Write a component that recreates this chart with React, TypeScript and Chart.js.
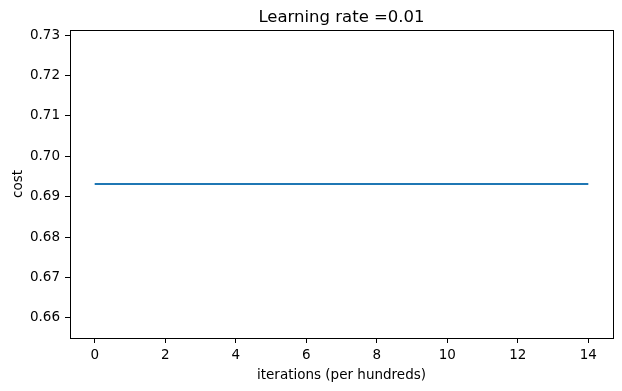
import React, { useEffect, useRef } from "react";
import { Chart, registerables } from "chart.js";

Chart.register(...registerables);

const iterations = [0, 1, 2, 3, 4, 5, 6, 7, 8, 9, 10, 11, 12, 13, 14];
const costs = [0.69315, 0.69315, 0.69315, 0.69315, 0.69315, 0.69315, 0.69315, 0.69315, 0.69315, 0.69315, 0.69315, 0.69315, 0.69315, 0.69315, 0.69315];
const xTicks = [0, 2, 4, 6, 8, 10, 12, 14];
const yTicks = [0.66, 0.67, 0.68, 0.69, 0.7, 0.71, 0.72, 0.73];
const titleText = "Learning rate =0.01";

const FONT = "'DejaVu Sans', sans-serif";

const framePlugin = {
  id: "frame",
  afterDraw(chart: any) {
    const { ctx, chartArea } = chart;
    ctx.save();
    ctx.strokeStyle = "#000";
    ctx.lineWidth = 1;
    ctx.strokeRect(
      Math.round(chartArea.left) + 0.5,
      Math.round(chartArea.top) + 0.5,
      Math.round(chartArea.right - chartArea.left),
      Math.round(chartArea.bottom - chartArea.top)
    );
    ctx.fillStyle = "#000";
    ctx.font = `16.5px ${FONT}`;
    ctx.textAlign = "center";
    ctx.textBaseline = "alphabetic";
    ctx.fillText(titleText, (chartArea.left + chartArea.right) / 2, 22);
    ctx.restore();
  },
};

export default function App() {
  const ref = useRef<HTMLCanvasElement>(null);
  useEffect(() => {
    const chart = new Chart(ref.current!, {
      type: "line",
      data: {
        datasets: [
          {
            data: iterations.map((x, i) => ({ x, y: costs[i] })),
            borderColor: "#1f77b4",
            borderWidth: 2,
            pointRadius: 0,
            fill: false,
          },
        ],
      },
      options: {
        animation: false,
        responsive: false,
        layout: { padding: { top: 30, right: 9, left: 0, bottom: 0 } },
        plugins: { legend: { display: false }, tooltip: { enabled: false }, title: { display: false } },
        scales: {
          x: {
            type: "linear",
            min: -0.7,
            max: 14.7,
            afterBuildTicks: (s: any) => {
              s.ticks = xTicks.map((v) => ({ value: v }));
            },
            afterFit: (s: any) => {
              s.height = 53;
            },
            grid: { display: true, drawOnChartArea: false, tickLength: 5, color: "#000", tickWidth: 1 },
            border: { display: true, color: "#000", width: 1 },
            ticks: { color: "#000", font: { family: FONT, size: 13.5 }, padding: 4, maxRotation: 0 },
            title: {
              display: true,
              text: "iterations (per hundreds)",
              color: "#000",
              font: { family: FONT, size: 13.5 },
              padding: { top: 0, bottom: 7 },
            },
          },
          y: {
            type: "linear",
            min: 0.65503,
            max: 0.73127,
            afterBuildTicks: (s: any) => {
              s.ticks = yTicks.map((v) => ({ value: v }));
            },
            afterFit: (s: any) => {
              s.width = 70;
            },
            grid: { display: true, drawOnChartArea: false, tickLength: 5, color: "#000", tickWidth: 1 },
            border: { display: true, color: "#000", width: 1 },
            ticks: {
              color: "#000",
              font: { family: FONT, size: 13.5 },
              padding: 5,
              callback: (v: any) => Number(v).toFixed(2),
            },
            title: {
              display: true,
              text: "cost",
              color: "#000",
              font: { family: FONT, size: 13.5 },
              padding: { top: 10, bottom: 0 },
            },
          },
        },
      },
      plugins: [framePlugin],
    });
    return () => chart.destroy();
  }, []);
  return (
    <div style={{ position: "fixed", left: 0, top: 0, width: 622, height: 391, background: "#fff" }}>
      <canvas ref={ref} width={622} height={391} />
    </div>
  );
}
